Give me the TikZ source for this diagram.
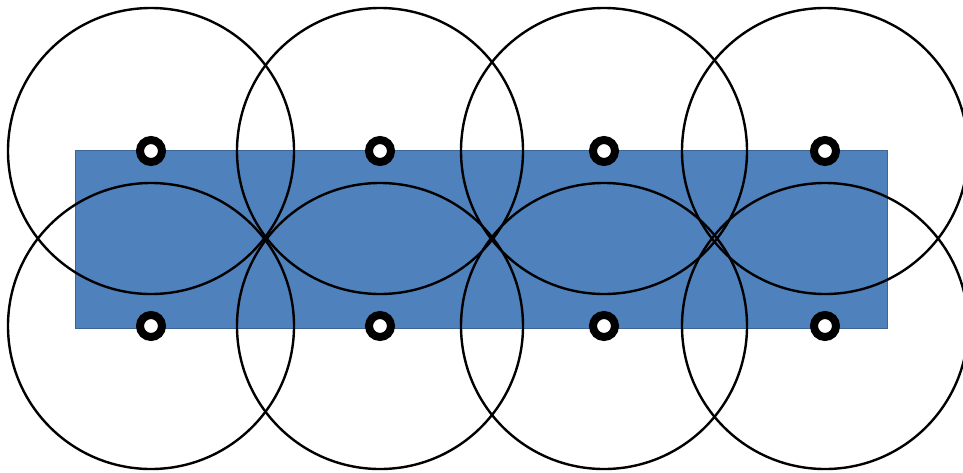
\documentclass[tikz,border=0pt]{standalone}
\usepackage{xcolor}
\usepackage{tikz}
\definecolor{cellblue}{RGB}{79,129,189}
\definecolor{celledge}{RGB}{60,100,150}
\tikzset{
  area/.style={fill=cellblue, draw=celledge, line width=1pt},
  cover/.style={draw=black, line width=2.4pt},
  sensor/.style={draw=black, fill=white, line width=8pt},
}

\begin{document}
\begin{tikzpicture}[x=1pt, y=-1pt]
  \useasboundingbox (0,0) rectangle (963,472);

  % Region
  \draw[area] (75,150) rectangle (887,328);

  % Coverage circles
  \foreach \cx in {151,380,604,825}{
    \draw[cover] (\cx,151) circle (143);
    \draw[cover] (\cx,326) circle (143);
  }

  % Sensor nodes
  \foreach \cx in {151,380,604,825}{
    \draw[sensor] (\cx,151) circle (11);
    \draw[sensor] (\cx,326) circle (11);
  }
\end{tikzpicture}
\end{document}
